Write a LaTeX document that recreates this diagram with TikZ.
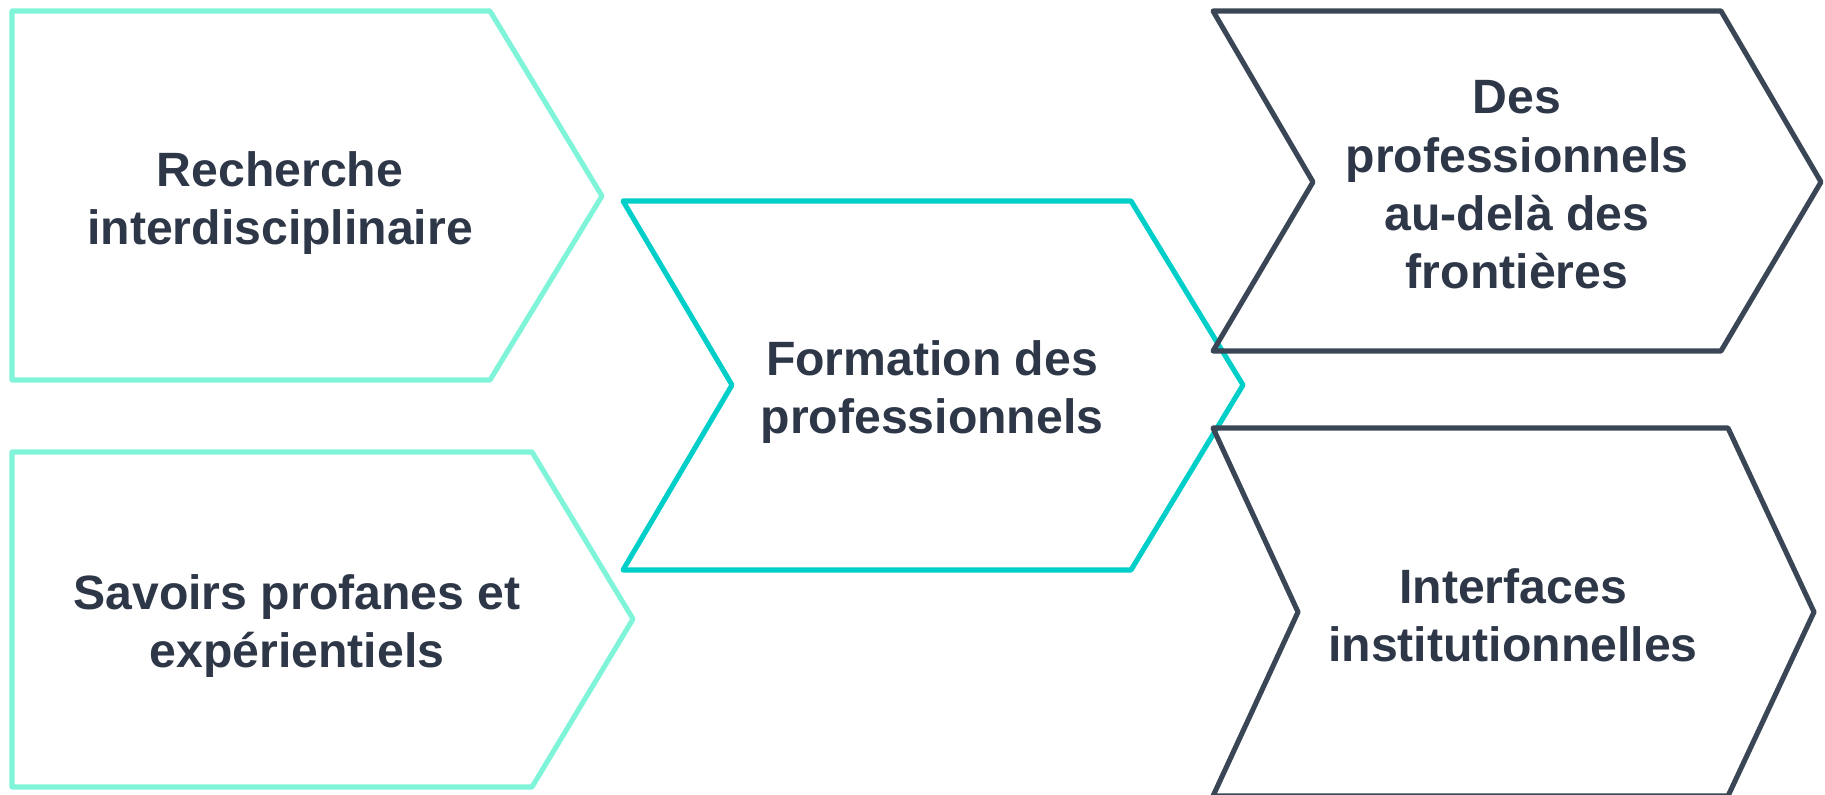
\documentclass[tikz,border=0pt]{standalone}
\usepackage{fontspec}
\setmainfont{Liberation Sans}
\definecolor{mint}{HTML}{7FF4D8}
\definecolor{turquoise}{HTML}{00CEC8}
\definecolor{slate}{HTML}{3A4656}
\definecolor{ink}{HTML}{2E3748}

\begin{document}
\begin{tikzpicture}[
        x=0.01cm, y=-0.01cm,
        inputstyle/.style={draw=mint, line width=1.45pt, line join=round},
        corestyle/.style={draw=turquoise, line width=1.45pt, line join=round},
        outputstyle/.style={draw=slate, line width=1.45pt, line join=round},
        labelstyle/.style={
            align=center,
            text=ink,
            font=\fontsize{13.7}{16.6}\selectfont\bfseries,}
        ]

        \useasboundingbox (0,0) rectangle (1825,794);

        \draw[inputstyle] (12,11) -- (490,11) -- (602,196) -- (490,380) -- (12,380) -- cycle;
        \node[labelstyle] (recherche) at (280,203) {Recherche\\interdisciplinaire};

        \draw[inputstyle] (12,452) -- (532,452) -- (633,619) -- (532,787) -- (12,787) -- cycle;
        \node[labelstyle] (savoirs) at (297,626) {Savoirs profanes et\\expérientiels};

        \draw[corestyle] (623,201) -- (1131,201) -- (1243,385) -- (1131,570) -- (623,570) -- (732,385) -- cycle;
        \node[labelstyle] (formation) at (932,392) {Formation des\\professionnels};

        \draw[outputstyle] (1213,11) -- (1721,11) -- (1821,182) -- (1721,351) -- (1213,351) -- (1313,182) -- cycle;
        \node[labelstyle] (frontieres) at (1517,185) {Des\\professionnels\\au-delà des\\frontières};

        \draw[outputstyle] (1213,428) -- (1728,428) -- (1814,612) -- (1728,796) -- (1213,796) -- (1298,612) -- cycle;
        \node[labelstyle] (interfaces) at (1513,615) {Interfaces\\institutionnelles};

    \end{tikzpicture}
\end{document}
